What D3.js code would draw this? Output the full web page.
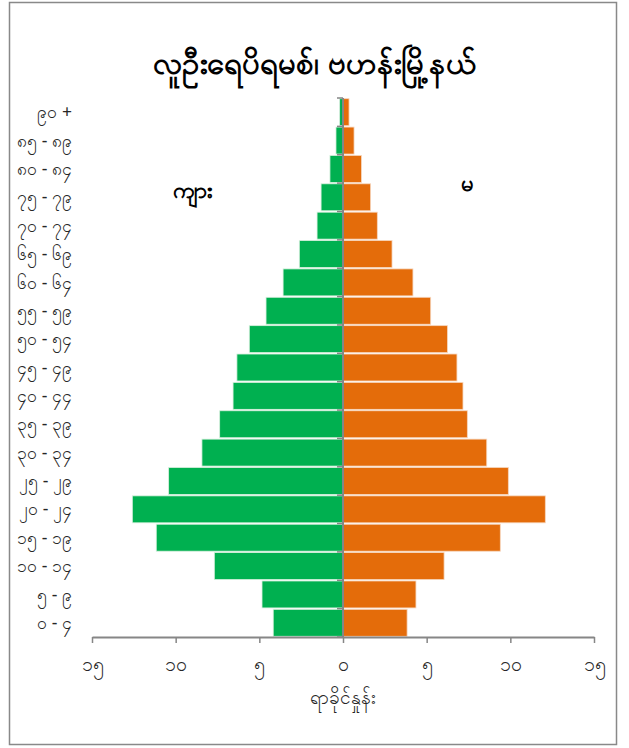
<meta charset="utf-8">
<script src="https://cdn.jsdelivr.net/npm/d3@7"></script>

<style>
  body {
    margin: 0;
    background-color: #fff;
  }
  text {
    font-family: "Noto Sans", sans-serif;
  }
</style>

<div id="pyramid"></div>

<script>
// age groups, bottom to top
var ageGroups = ["၀ - ၄", "၅ - ၉", "၁၀ - ၁၄", "၁၅ - ၁၉", "၂၀ - ၂၄", "၂၅ - ၂၉", "၃၀ - ၃၄",
  "၃၅ - ၃၉", "၄၀ - ၄၄", "၄၅ - ၄၉", "၅၀ - ၅၄", "၅၅ - ၅၉", "၆၀ - ၆၄", "၆၅ - ၆၉",
  "၇၀ - ၇၄", "၇၅ - ၇၉", "၈၀ - ၈၄", "၈၅ - ၈၉", "၉၀ +"];

// percent of population, same order as ageGroups
var male   = [4.17, 4.84, 7.69, 11.16, 12.59, 10.42, 8.43, 7.37, 6.57, 6.34, 5.6, 4.6, 3.58, 2.61, 1.55, 1.31, 0.78, 0.42, 0.2];
var female = [3.83, 4.36, 6.04, 9.40, 12.09, 9.88, 8.59, 7.43, 7.17, 6.81, 6.24, 5.24, 4.18, 2.93, 2.05, 1.65, 1.1, 0.66, 0.36];

var xTicks = [-15, -10, -5, 0, 5, 10, 15];
var xTickLabels = ["၁၅", "၁၀", "၅", "၀", "၅", "၁၀", "၁၅"];

var title = "လူဦးရေပိရမစ်၊ ဗဟန်းမြို့နယ်";
var maleLabel = "ကျား";
var femaleLabel = "မ";
var xTitle = "ရာခိုင်နှုန်း";

var W = 629, H = 748;
var plot = {left: 92, right: 594, top: 98, bottom: 637};

var svg = d3.select("#pyramid").append("svg")
  .attr("width", W)
  .attr("height", H);

// outer frame
svg.append("rect")
  .attr("x", 9.5).attr("y", 2.5)
  .attr("width", 607).attr("height", 742)
  .attr("fill", "#fff")
  .attr("stroke", "#898989")
  .attr("stroke-width", 1.5);

var x = d3.scaleLinear()
  .domain([-15, 15])
  .range([plot.left, plot.right]);

var y = d3.scaleBand()
  .domain(ageGroups.slice().reverse())
  .range([plot.top, plot.bottom])
  .paddingInner(0.05)
  .paddingOuter(0.025);

var rows = ageGroups.map(function(a, i) { return {age: a, m: male[i], f: female[i]}; });

// male bars go left
svg.selectAll(".male")
  .data(rows)
  .enter()
  .append("rect")
    .attr("x", function(d) { return x(-d.m); })
    .attr("y", function(d) { return y(d.age); })
    .attr("width", function(d) { return x(0) - x(-d.m); })
    .attr("height", y.bandwidth())
    .attr("fill", "#00B050")
    .attr("stroke", "#d8f0de")
    .attr("stroke-width", 0.8);

// female bars go right
svg.selectAll(".female")
  .data(rows)
  .enter()
  .append("rect")
    .attr("x", x(0))
    .attr("y", function(d) { return y(d.age); })
    .attr("width", function(d) { return x(d.f) - x(0); })
    .attr("height", y.bandwidth())
    .attr("fill", "#E46C0A")
    .attr("stroke", "#f6d6bd")
    .attr("stroke-width", 0.8);

// x axis
var xAxis = svg.append("g")
  .attr("transform", "translate(0," + plot.bottom + ")")
  .call(d3.axisBottom(x)
    .tickValues(xTicks)
    .tickSize(6)
    .tickSizeOuter(0)
    .tickFormat(function(d, i) { return xTickLabels[i]; }));

xAxis.select(".domain").attr("stroke", "#868686").attr("stroke-width", 2);
xAxis.selectAll(".tick line").attr("stroke", "#868686").attr("stroke-width", 1.5);
xAxis.selectAll(".tick text")
  .attr("dy", "1.3em")
  .attr("font-size", 19.5)
  .attr("fill", "#262626");

// y axis line at zero with boundary ticks pointing left
var bounds = d3.range(ageGroups.length + 1).map(function(i) { return plot.top + i * y.step() - y.step() * y.paddingInner() / 2 + y.step() * y.paddingOuter(); });
svg.selectAll(".ytick")
  .data(bounds)
  .enter()
  .append("line")
    .attr("x1", x(0) - 6)
    .attr("x2", x(0))
    .attr("y1", function(d) { return d; })
    .attr("y2", function(d) { return d; })
    .attr("stroke", "#868686")
    .attr("stroke-width", 1.5);

svg.append("line")
  .attr("x1", x(0)).attr("x2", x(0))
  .attr("y1", plot.top).attr("y2", plot.bottom)
  .attr("stroke", "#868686")
  .attr("stroke-width", 2);

// age labels on the far left
svg.selectAll(".age")
  .data(ageGroups)
  .enter()
  .append("text")
    .attr("x", 72)
    .attr("y", function(d) { return y(d) + y.bandwidth() / 2; })
    .attr("dy", "0.35em")
    .attr("text-anchor", "end")
    .attr("font-size", 17.5)
    .attr("fill", "#262626")
    .text(function(d) { return d; });

// title
svg.append("text")
  .attr("x", 315)
  .attr("y", 74)
  .attr("text-anchor", "middle")
  .attr("font-size", 31)
  .attr("font-weight", "bold")
  .attr("fill", "#000")
  .text(title);

svg.append("text")
  .attr("x", 193)
  .attr("y", 190)
  .attr("dy", "0.35em")
  .attr("text-anchor", "middle")
  .attr("font-size", 22)
  .attr("font-weight", "bold")
  .text(maleLabel);

svg.append("text")
  .attr("x", 467)
  .attr("y", 183)
  .attr("dy", "0.35em")
  .attr("text-anchor", "middle")
  .attr("font-size", 22)
  .attr("font-weight", "bold")
  .text(femaleLabel);

svg.append("text")
  .attr("x", x(0))
  .attr("y", 697)
  .attr("dy", "0.35em")
  .attr("text-anchor", "middle")
  .attr("font-size", 19)
  .attr("fill", "#262626")
  .text(xTitle);
</script>
